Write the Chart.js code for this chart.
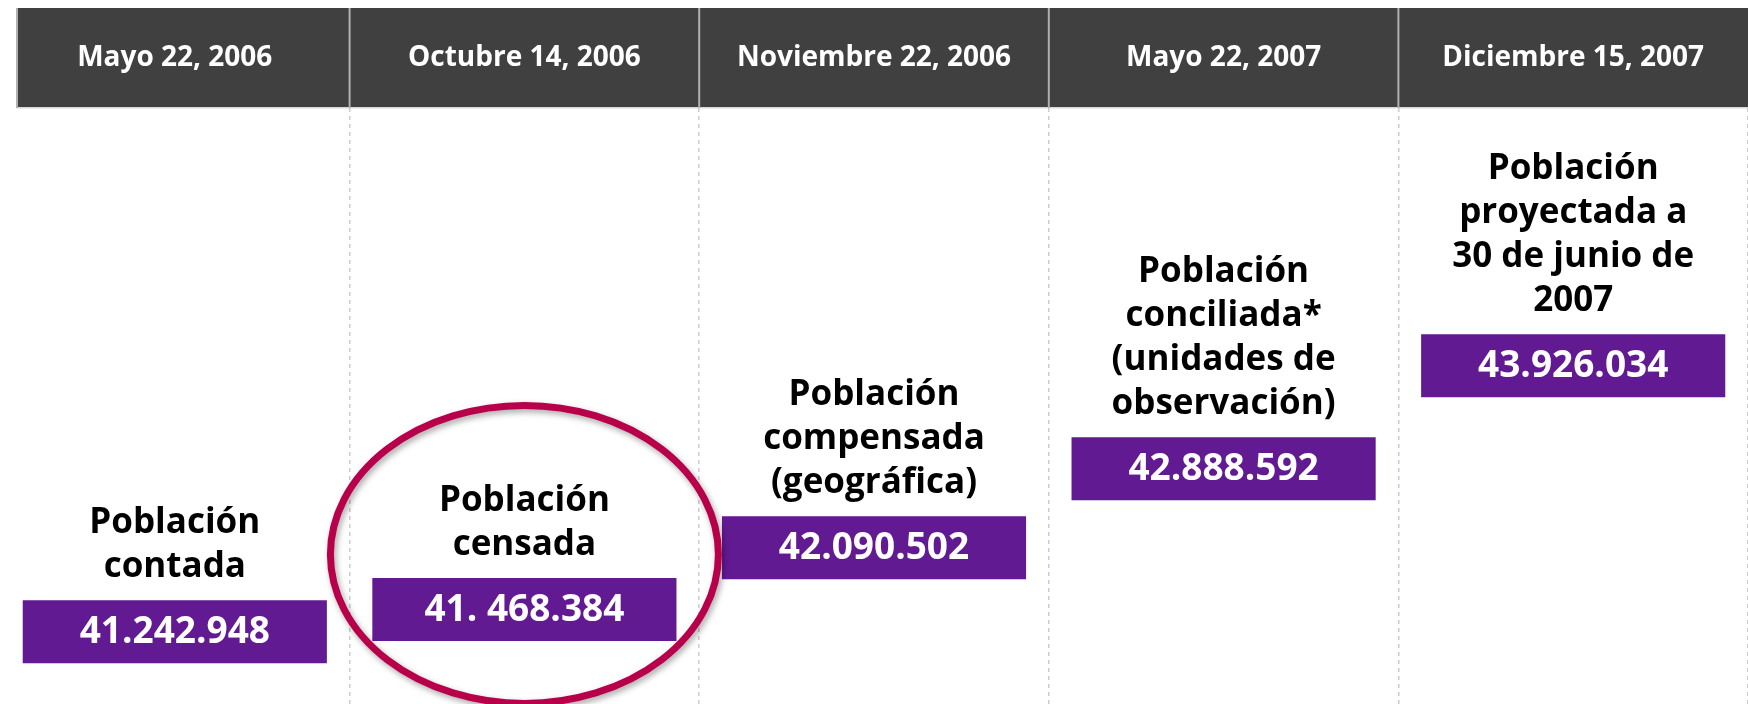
<!DOCTYPE html>
<html>
<head>
<meta charset="utf-8">
<script src="https://cdn.jsdelivr.net/npm/chart.js@4"></script>
<style>
  html, body { margin: 0; padding: 0; background: #fff; }
  #wrap { width: 1748px; height: 704px; }
</style>
</head>
<body>
<div id="wrap"><canvas id="chart"></canvas></div>
<script>
const fechas = ['Mayo 22, 2006', 'Octubre 14, 2006', 'Noviembre 22, 2006', 'Mayo 22, 2007', 'Diciembre 15, 2007']
const poblacion = [41242948, 41468384, 42090502, 42888592, 43926034]
const cifras = ['41.242.948', '41. 468.384', '42.090.502', '42.888.592', '43.926.034']
const etiquetas = [
  ['Población', 'contada'],
  ['Población', 'censada'],
  ['Población', 'compensada', '(geográfica)'],
  ['Población', 'conciliada*', '(unidades de', 'observación)'],
  ['Población', 'proyectada a', '30 de junio de', '2007'],
]
const destacado = 1 // columna marcada con el círculo

const FONT = "'Open Sans', 'Noto Sans', sans-serif"
const PURPLE = '#621a92'
const HALF = 318000 // media altura de la caja, en unidades del eje

// banda gris oscuro detrás de las fechas
const headerBand = {
  id: 'headerBand',
  beforeDraw(chart) {
    const { ctx } = chart
    const x = chart.scales.x
    ctx.save()
    ctx.fillStyle = '#404040'
    ctx.fillRect(16, 8, chart.width - 16, x.bottom - 8)
    ctx.fillStyle = '#d9d9d9'
    ctx.fillRect(16, x.bottom - 1, chart.width - 16, 1.5)
    ctx.fillStyle = '#b0b0b0'
    ctx.fillRect(16, 8, 2, x.bottom - 8)
    for (let i = 1; i < fechas.length; i++) {
      const px = (x.getPixelForValue(i - 1) + x.getPixelForValue(i)) / 2
      ctx.fillRect(px - 1, 8, 2, x.bottom - 8)
    }
    ctx.restore()
  },
}

// textos encima y dentro de las cajas, y el círculo
const boxText = {
  id: 'boxText',
  afterDatasetsDraw(chart) {
    const { ctx } = chart
    const bars = chart.getDatasetMeta(0).data
    ctx.save()
    ctx.textAlign = 'center'
    ctx.textBaseline = 'middle'
    bars.forEach((bar, i) => {
      const top = Math.min(bar.y, bar.base)
      const bottom = Math.max(bar.y, bar.base)
      ctx.fillStyle = '#fff'
      ctx.font = 'bold 37px ' + FONT
      ctx.fillText(cifras[i], bar.x, (top + bottom) / 2 + 1)

      ctx.fillStyle = '#000'
      ctx.font = 'bold 35px ' + FONT
      const lines = etiquetas[i]
      const lh = 44
      lines.forEach((t, j) => {
        const y = top - 33 - (lines.length - 1 - j) * lh
        ctx.fillText(t, bar.x, y)
      })
    })

    const b = bars[destacado]
    const cy = (b.y + b.base) / 2 - 55
    ctx.shadowColor = 'rgba(0,0,0,0.35)'
    ctx.shadowBlur = 6
    ctx.shadowOffsetX = 2
    ctx.shadowOffsetY = 3
    ctx.strokeStyle = '#b8004a'
    ctx.lineWidth = 7
    ctx.beginPath()
    ctx.ellipse(b.x, cy, 194, 149, 0, 0, Math.PI * 2)
    ctx.stroke()
    ctx.restore()
  },
}

new Chart(document.getElementById('chart'), {
  type: 'bar',
  data: {
    labels: fechas,
    datasets: [{
      data: poblacion.map(v => [v - HALF, v + HALF]),
      backgroundColor: PURPLE,
      borderWidth: 0,
      barPercentage: 0.87,
      categoryPercentage: 1,
    }],
  },
  options: {
    responsive: true,
    maintainAspectRatio: false,
    animation: false,
    layout: { padding: { top: 8, left: 0, right: 0, bottom: 0 } },
    plugins: { legend: { display: false }, tooltip: { enabled: false } },
    scales: {
      x: {
        position: 'top',
        offset: true,
        border: { display: false, dash: [4, 4] },
        grid: {
          offset: true,
          drawTicks: false,
          lineWidth: 1.5,
          color: ctx => (ctx.index === 0 || ctx.index === fechas.length) ? 'rgba(0,0,0,0)' : '#cccccc',
        },
        ticks: {
          color: '#fff',
          padding: 0,
          maxRotation: 0,
          autoSkip: false,
          font: { family: FONT, size: 28, weight: 'bold', lineHeight: 100 / 28 },
        },
      },
      y: {
        display: false,
        min: 40514000,
        max: 46528000,
      },
    },
  },
  plugins: [headerBand, boxText],
})
</script>
</body>
</html>
